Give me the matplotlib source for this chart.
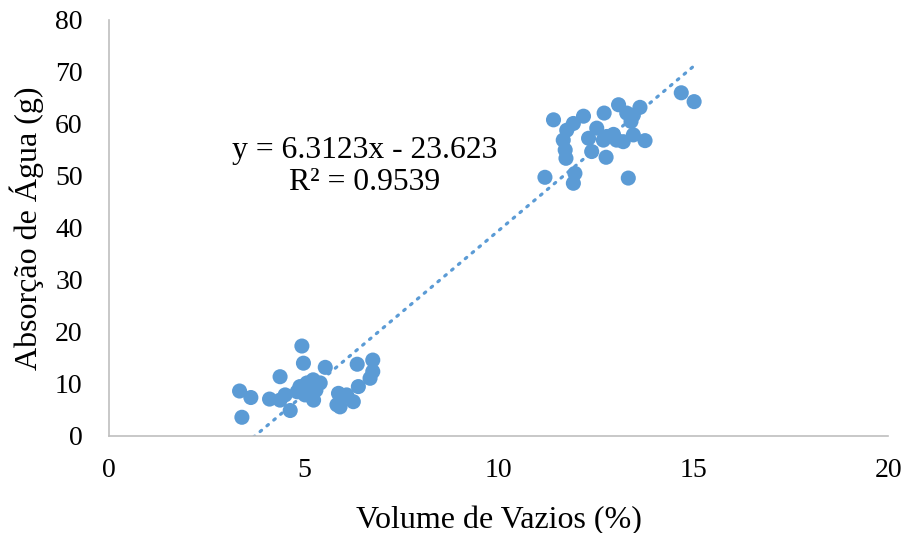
import matplotlib
matplotlib.use("Agg")
import matplotlib.pyplot as plt
import numpy as np

# Void volume (%) and water absorption (g) for each specimen
volume_vazios = [
    # low-porosity group
    3.35, 3.41, 3.64, 4.12, 4.39, 4.39, 4.52, 4.65, 4.83, 4.90, 4.95, 4.99,
    5.03, 5.08, 5.24, 5.25, 5.31, 5.42, 5.55, 5.85, 5.89, 5.93, 6.10, 6.27,
    6.37, 6.40, 6.70, 6.77, 6.77, 5.15,
    # high-porosity group
    11.19, 11.41, 11.66, 11.71, 11.73, 11.75, 11.92, 11.92, 11.96, 12.18,
    12.31, 12.39, 12.52, 12.69, 12.71, 12.76, 12.78, 13.03, 13.08, 13.20,
    13.29, 13.33, 13.46, 13.46, 13.63, 13.76, 14.69, 15.02, 12.95, 13.40,
]
absorcao_agua = [
    8.65, 3.6, 7.4, 7.1, 11.4, 6.9, 7.9, 4.9, 8.5, 9.5, 17.3, 14.0,
    7.9, 10.2, 10.8, 6.9, 8.8, 10.2, 13.2, 6.0, 8.2, 5.6, 7.9, 6.6,
    13.8, 9.5, 11.1, 14.6, 12.4, 9.0,
    49.75, 60.8, 56.9, 55.0, 53.4, 58.8, 60.1, 48.6, 50.5, 61.5,
    57.25, 54.7, 59.2, 56.9, 62.1, 53.6, 57.6, 56.9, 63.7, 56.6,
    62.1, 49.6, 61.7, 57.9, 63.2, 56.8, 66.0, 64.3, 58.0, 60.5,
]

# Linear trendline as reported on the chart
slope = 6.3123
intercept = -23.623
r_squared = 0.9539

x_ticks = [0, 5, 10, 15, 20]
y_ticks = [0, 10, 20, 30, 40, 50, 60, 70, 80]

plt.rcParams['font.family'] = ['Liberation Serif', 'DejaVu Serif']

blue = '#5B9BD5'
axis_gray = '#BFBFBF'

fig = plt.figure(figsize=(9.09, 5.33), dpi=100)
ax = fig.add_axes([0.12, 0.182, 0.857, 0.7805])

ax.scatter(volume_vazios, absorcao_agua, s=118, color=blue, edgecolors='none',
           zorder=3)

x_line = np.array([min(volume_vazios), max(volume_vazios)])
ax.plot(x_line, slope * x_line + intercept, color=blue, lw=2.3,
        linestyle=(0, (0.6, 2.2)), dash_capstyle='round', zorder=2)

ax.text(6.57, 51.8, f"y = {slope}x - {abs(intercept)}\nR² = {r_squared}",
        ha='center', va='center', fontsize=22.8, linespacing=1.12,
        color='black')

ax.set_xlim(0, 20)
ax.set_ylim(0, 80)
ax.set_xticks(x_ticks)
ax.set_yticks(y_ticks)
ax.tick_params(axis='both', length=0, labelsize=20)
ax.tick_params(axis='x', pad=16)
ax.tick_params(axis='y', pad=19)

for side in ['top', 'right']:
    ax.spines[side].set_visible(False)
for side in ['left', 'bottom']:
    ax.spines[side].set_color(axis_gray)
    ax.spines[side].set_linewidth(1.2)

ax.set_xlabel('Volume de Vazios (%)', fontsize=23, labelpad=16)
ax.set_ylabel('Absorção de Água (g)', fontsize=23, labelpad=8)

fig.savefig('out.png', dpi=100)
